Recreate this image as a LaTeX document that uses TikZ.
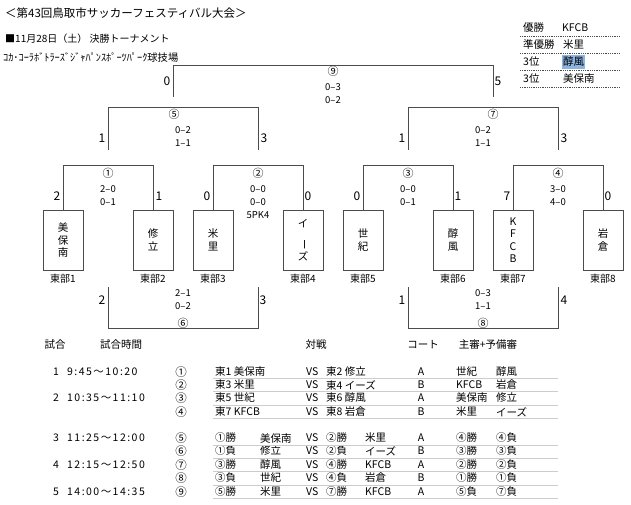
\documentclass[tikz,border=0pt]{standalone}
\usepackage{fontspec}
\setmainfont{Noto Sans CJK JP}
\newfontfamily\widefont[LetterSpace=14]{Noto Sans CJK JP}
\usetikzlibrary{positioning}
\definecolor{selblue}{RGB}{140,180,225}
\tikzstyle{teambox} = [rectangle, draw=black!70, line width=1pt, minimum width=40pt, minimum height=60pt, inner sep=0pt, align=center, font=\fontsize{10.5}{12.5}\selectfont]
\tikzstyle{bracket} = [draw=black!70, line width=1pt]
\tikzstyle{bigscore} = [inner sep=0pt, font=\fontsize{12}{12}\selectfont]
\tikzstyle{smallscore} = [inner sep=0pt, align=center, font=\fontsize{9.5}{13}\selectfont]
\tikzstyle{matchno} = [inner sep=0pt, font=\fontsize{11}{11}\selectfont]
\tikzstyle{division} = [inner sep=0pt, font=\fontsize{10}{10}\selectfont]
\tikzstyle{cell} = [inner sep=0pt, anchor=west, font=\fontsize{10.5}{10.5}\selectfont]
\tikzstyle{rowrule} = [draw=black!20, line width=0.8pt]

\begin{document}
\begin{tikzpicture}[x=1pt, y=-1pt]
\useasboundingbox (0,0) rectangle (631,505);

 % heading
 \node (title) [cell, font=\fontsize{11.5}{11.5}\selectfont] at (5,13) {＜第43回鳥取市サッカーフェスティバル大会＞};
 \node (day) [cell, font=\fontsize{10}{10}\selectfont] at (5,39) {■11月28日（土） 決勝トーナメント};
 \node (venue) [cell, font=\fontsize{10.3}{10}\selectfont] at (3,58) {ｺｶ･ｺｰﾗﾎﾞﾄﾗｰｽﾞｼﾞｬﾊﾟﾝｽﾎﾟｰﾂﾊﾟｰｸ球技場};

 % final ranking
 \node (rk1) [cell] at (523,28) {優勝};
 \node (rk1t) [cell] at (562,28) {KFCB};
 \node (rk2) [cell] at (523,45) {準優勝};
 \node (rk2t) [cell] at (563,45) {米里};
 \node (rk3) [cell] at (523,62) {3位};
 \node (rk3t) [cell, fill=selblue, inner xsep=1pt, inner ysep=2pt] at (562,62) {醇風};
 \node (rk4) [cell] at (523,79) {3位};
 \node (rk4t) [cell] at (563,79) {美保南};
 \foreach \y in {36,53,70,87}
  \draw[black!70, densely dotted, line width=0.8pt] (520,\y) -- (620,\y);

 % teams
 \node (t1) [teambox] at (63,240) {美\\保\\南};
 \node (t2) [teambox] at (153,240) {修\\立};
 \node (t3) [teambox] at (213,240) {米\\里};
 \node (t4) [teambox] at (303,240) {イ\\\rotatebox{-90}{ー}\\ズ};
 \node (t5) [teambox] at (363,240) {世\\紀};
 \node (t6) [teambox] at (453,240) {醇\\風};
 \node (t7) [teambox] at (513,240) {K\\F\\C\\B};
 \node (t8) [teambox] at (603,240) {岩\\倉};
 \foreach \n in {1,...,8}
  \node (d\n) [division, below=3pt of t\n] {東部\n};

 % first round
 \draw[bracket] (t1.north) -- ++(0,-44) -| (t2.north);
 \draw[bracket] (t3.north) -- ++(0,-44) -| (t4.north);
 \draw[bracket] (t5.north) -- ++(0,-44) -| (t6.north);
 \draw[bracket] (t7.north) -- ++(0,-44) -| (t8.north);
 \node (m1) [matchno] at (108,173) {①};
 \node (r1) [smallscore] at (108,195.5) {2–0\\0–1};
 \node (s1a) [bigscore] at (57,196) {2};
 \node (s1b) [bigscore] at (159,196) {1};
 \node (m2) [matchno] at (258,173) {②};
 \node (r2) [smallscore] at (258,202) {0–0\\0–0\\5PK4};
 \node (s2a) [bigscore] at (207,196) {0};
 \node (s2b) [bigscore] at (308,196) {0};
 \node (m3) [matchno] at (408,173) {③};
 \node (r3) [smallscore] at (408,195.5) {0–0\\0–1};
 \node (s3a) [bigscore] at (357,196) {0};
 \node (s3b) [bigscore] at (458,196) {1};
 \node (m4) [matchno] at (558,173) {④};
 \node (r4) [smallscore] at (558,195.5) {3–0\\4–0};
 \node (s4a) [bigscore] at (507,196) {7};
 \node (s4b) [bigscore] at (608,196) {0};

 % winners side
 \coordinate (w5a) at (108,150);
 \coordinate (w5b) at (258,150);
 \coordinate (w7a) at (408,150);
 \coordinate (w7b) at (558,150);
 \draw[bracket] (w5a) -- ++(0,-42) -| (w5b);
 \draw[bracket] (w7a) -- ++(0,-42) -| (w7b);
 \node (m5) [matchno] at (174,114) {⑤};
 \node (r5) [smallscore] at (183,136.5) {0–2\\1–1};
 \node (s5a) [bigscore] at (102,138) {1};
 \node (s5b) [bigscore] at (264,138) {3};
 \node (m7) [matchno] at (493,114) {⑦};
 \node (r7) [smallscore] at (483,136.5) {0–2\\1–1};
 \node (s7a) [bigscore] at (402,138) {1};
 \node (s7b) [bigscore] at (564,138) {3};

 % losers side
 \coordinate (l6a) at (108,287);
 \coordinate (l6b) at (258,287);
 \coordinate (l8a) at (408,287);
 \coordinate (l8b) at (558,287);
 \draw[bracket] (l6a) -- ++(0,41) -| (l6b);
 \draw[bracket] (l8a) -- ++(0,41) -| (l8b);
 \node (m6) [matchno] at (183,323) {⑥};
 \node (r6) [smallscore] at (183,299.5) {2–1\\0–2};
 \node (s6a) [bigscore] at (102,300) {2};
 \node (s6b) [bigscore] at (263,300) {3};
 \node (m8) [matchno] at (483,323) {⑧};
 \node (r8) [smallscore] at (483,299.5) {0–3\\1–1};
 \node (s8a) [bigscore] at (402,300) {1};
 \node (s8b) [bigscore] at (564,300) {4};

 % final
 \coordinate (f9a) at (173,97);
 \coordinate (f9b) at (493,97);
 \draw[bracket] (f9a) -- ++(0,-31) -| (f9b);
 \node (m9) [matchno] at (333,71) {⑨};
 \node (r9) [smallscore] at (333,94) {0–3\\0–2};
 \node (s9a) [bigscore] at (167,81) {0};
 \node (s9b) [bigscore] at (498,81) {5};

 % schedule
 \node (hd1) [cell, anchor=center] at (55,345) {試合};
 \node (hd2) [cell, anchor=center] at (121,345) {試合時間};
 \node (hd3) [cell, anchor=center] at (316,345) {対戦};
 \node (hd4) [cell, anchor=center] at (423,345) {コート};
 \node (hd5) [cell, anchor=center] at (488,345) {主審+予備審};
 \node (k1) [cell, anchor=center] at (56,372) {1};
 \node (k1t) [cell] at (67,372) {\widefont 9:45～10:20};
 \node (k2) [cell, anchor=center] at (56,398) {2};
 \node (k2t) [cell] at (67,398) {\widefont 10:35～11:10};
 \node (k3) [cell, anchor=center] at (56,438) {3};
 \node (k3t) [cell] at (67,438) {\widefont 11:25～12:00};
 \node (k4) [cell, anchor=center] at (56,465) {4};
 \node (k4t) [cell] at (67,465) {\widefont 12:15～12:50};
 \node (k5) [cell, anchor=center] at (56,492) {5};
 \node (k5t) [cell] at (67,492) {\widefont 14:00～14:35};
 \foreach \i/\y/\m/\home/\away/\court/\refa/\refb in {%
   1/372/①/東1 美保南/東2 修立/A/世紀/醇風,
   2/385/②/東3 米里/東4 イーズ/B/KFCB/岩倉,
   3/398/③/東5 世紀/東6 醇風/A/美保南/修立,
   4/412/④/東7 KFCB/東8 岩倉/B/米里/イーズ}{
  \node (g\i) [cell, anchor=center, font=\fontsize{11.5}{11.5}\selectfont] at (181,\y) {\m};
  \node (h\i) [cell] at (215,\y) {\home};
  \node (v\i) [cell] at (306,\y) {VS};
  \node (a\i) [cell] at (326,\y) {\away};
  \node (c\i) [cell, anchor=center] at (421,\y) {\court};
  \node (p\i) [cell] at (456,\y) {\refa};
  \node (q\i) [cell] at (496,\y) {\refb};
 }
 \foreach \i/\y/\m/\home/\hname/\away/\aname/\court/\refa/\refb in {%
   5/438/⑤/①勝/美保南/②勝/米里/A/④勝/④負,
   6/451/⑥/①負/修立/②負/イーズ/B/③勝/③負,
   7/465/⑦/③勝/醇風/④勝/KFCB/A/②勝/②負,
   8/478/⑧/③負/世紀/④負/岩倉/B/①勝/①負,
   9/492/⑨/⑤勝/米里/⑦勝/KFCB/A/⑤負/⑦負}{
  \node (g\i) [cell, anchor=center, font=\fontsize{11.5}{11.5}\selectfont] at (181,\y) {\m};
  \node (h\i) [cell] at (215,\y) {\home};
  \node (hn\i) [cell] at (260,\y) {\hname};
  \node (v\i) [cell] at (306,\y) {VS};
  \node (a\i) [cell] at (326,\y) {\away};
  \node (an\i) [cell] at (365,\y) {\aname};
  \node (c\i) [cell, anchor=center] at (421,\y) {\court};
  \node (p\i) [cell] at (456,\y) {\refa};
  \node (q\i) [cell] at (496,\y) {\refb};
 }
 \foreach \y in {378,391,405,418,445,458,471,485,498}
  \draw[rowrule] (213,\y) -- (558,\y);
\end{tikzpicture}
\end{document}
